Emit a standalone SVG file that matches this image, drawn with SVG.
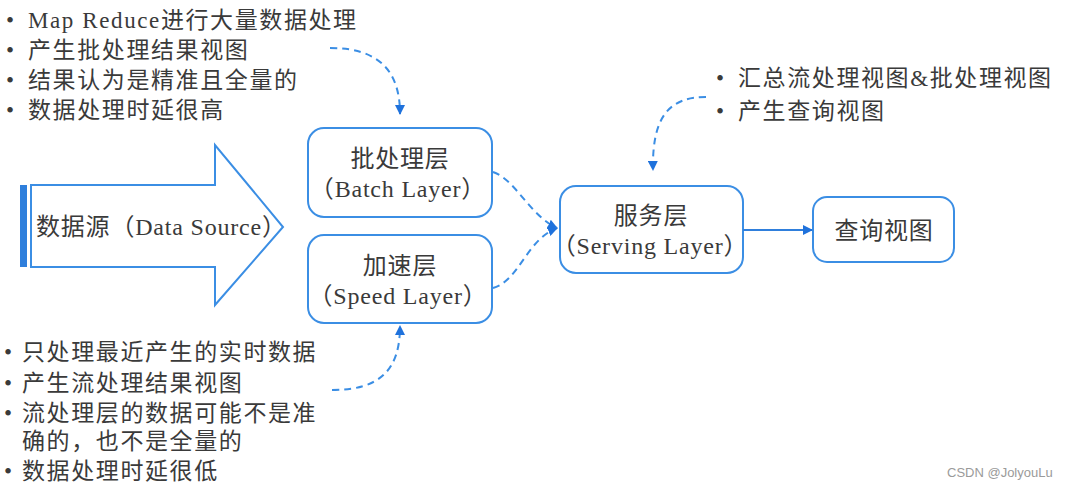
<svg xmlns="http://www.w3.org/2000/svg" width="1066" height="490" viewBox="0 0 1066 490">
<style>
.t{font-family:"Liberation Serif","Noto Sans CJK SC",serif;font-size:23px;fill:#3a3a3a;letter-spacing:1.6px}
.b{font-size:24px;letter-spacing:0.8px}
.c{text-anchor:middle}
.box{fill:#fff;stroke:#3b8ee4;stroke-width:2}
.dash{fill:none;stroke:#3b8ee4;stroke-width:2;stroke-dasharray:7 5}
.solid{fill:none;stroke:#2f7fdc;stroke-width:2}
.wm{font-family:"Liberation Sans",Arial,sans-serif;font-size:13px;fill:#9a9a9a}
</style>
<defs>
<marker id="ah" viewBox="0 0 10 10" refX="9" refY="5" markerWidth="10" markerHeight="10" markerUnits="userSpaceOnUse" orient="auto">
<path d="M0,0 L10,5 L0,10 z" fill="#1f72dc"/>
</marker>
</defs>
<rect width="1066" height="490" fill="#fff"/>

<g id="notes-batch">
<text class="t" x="6" y="28">•</text><text class="t" x="28" y="28">Map Reduce进行大量数据处理</text>
<text class="t" x="6" y="58">•</text><text class="t" x="28" y="58">产生批处理结果视图</text>
<text class="t" x="6" y="88">•</text><text class="t" x="28" y="88">结果认为是精准且全量的</text>
<text class="t" x="6" y="118">•</text><text class="t" x="28" y="118">数据处理时延很高</text>
</g>

<g id="notes-serving">
<text class="t" x="716" y="86">•</text><text class="t" x="738" y="86">汇总流处理视图&amp;批处理视图</text>
<text class="t" x="716" y="119">•</text><text class="t" x="738" y="119">产生查询视图</text>
</g>

<g id="notes-speed">
<text class="t" x="4" y="360">•</text><text class="t" x="22" y="360">只处理最近产生的实时数据</text>
<text class="t" x="4" y="391">•</text><text class="t" x="22" y="391">产生流处理结果视图</text>
<text class="t" x="4" y="421">•</text><text class="t" x="22" y="421">流处理层的数据可能不是准</text>
<text class="t" x="22" y="449">确的，也不是全量的</text>
<text class="t" x="4" y="479">•</text><text class="t" x="22" y="479">数据处理时延很低</text>
</g>

<g id="datasource">
<polygon points="31,185 215,185 215,145 283,227 215,305 215,267 31,267" fill="#fff" stroke="#3b8ee4" stroke-width="2"/>
<rect x="20" y="185" width="7" height="82" fill="#2f7fdc"/>
<text class="t b" x="36" y="235">数据源（Data Source）</text>
</g>

<g id="batch">
<rect class="box" x="308" y="128" width="184" height="89" rx="16"/>
<text class="t b c" x="400" y="167">批处理层</text>
<text class="t b c" x="398" y="197">（Batch Layer）</text>
</g>

<g id="speed">
<rect class="box" x="308" y="235" width="184" height="88" rx="16"/>
<text class="t b c" x="400" y="274">加速层</text>
<text class="t b c" x="398" y="304">（Speed Layer）</text>
</g>

<g id="serving">
<rect class="box" x="560" y="186" width="183" height="87" rx="16"/>
<text class="t b c" x="651" y="224">服务层</text>
<text class="t b c" x="650" y="254">（Serving Layer）</text>
</g>

<g id="query">
<rect class="box" x="813" y="197" width="141" height="65" rx="14"/>
<text class="t b c" x="884" y="239">查询视图</text>
</g>

<g id="connectors">
<path class="dash" d="M330 48 C378 48 400 70 400 114" marker-end="url(#ah)"/>
<path class="dash" d="M493 172 C516 180 530 216 557 228" marker-end="url(#ah)"/>
<path class="dash" d="M493 288 C520 280 526 240 557 228" marker-end="url(#ah)"/>
<path class="dash" d="M706 97 C668 97 652 118 653 170" marker-end="url(#ah)"/>
<path class="dash" d="M332 390 C380 390 400 370 400 326" marker-end="url(#ah)"/>
<path class="solid" d="M743 230 L812 230" marker-end="url(#ah)"/>
</g>

<text class="wm" x="947" y="477">CSDN @JolyouLu</text>
</svg>
